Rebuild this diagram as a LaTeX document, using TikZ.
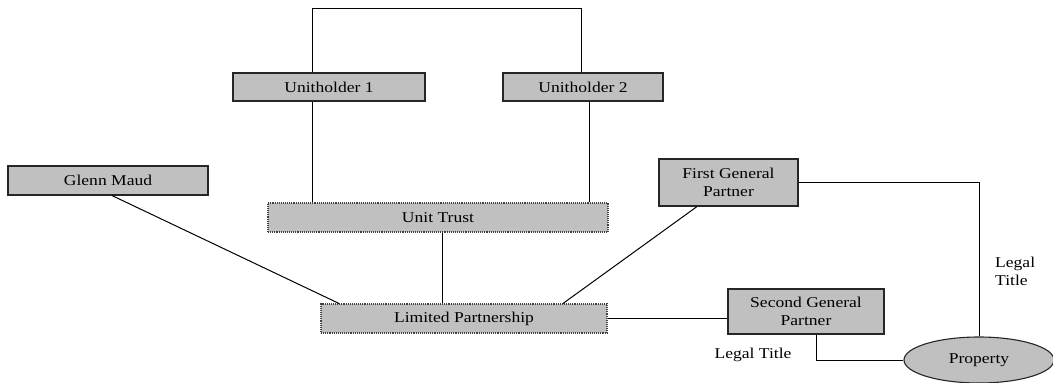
\documentclass[tikz,border=0pt]{standalone}
\usepackage{fontspec}
\setmainfont{Liberation Serif}[FakeStretch=1.17]
\usetikzlibrary{shapes.geometric}
\definecolor{boxgray}{HTML}{C0C0C0}
\begin{document}
\begin{tikzpicture}[x=1pt,y=-1pt,
  every node/.style={font=\fontsize{15}{18}\selectfont},
  solidbox/.style={draw=black!85,line width=1.1pt,fill=boxgray,inner sep=0pt,align=center},
  dotbox/.style={draw=black!75,densely dotted,line width=1.1pt,fill=boxgray,inner sep=0pt,align=center},
  conn/.style={draw=black,line width=1pt},
  lbl/.style={inner sep=0pt,align=left}]
\useasboundingbox (0,0) rectangle (1053,383);
\node[solidbox,minimum width=192pt,minimum height=28pt] (U1) at (329,87) {Unitholder 1};
\node[solidbox,minimum width=160pt,minimum height=28pt] (U2) at (583,87) {Unitholder 2};
\node[solidbox,minimum width=200pt,minimum height=29pt] (GM) at (108,180.5) {Glenn Maud};
\node[dotbox,minimum width=340pt,minimum height=29pt] (UT) at (438,217.5) {Unit Trust};
\node[dotbox,minimum width=286pt,minimum height=29pt] (LP) at (464,318.5) {Limited Partnership};
\node[solidbox,minimum width=139pt,minimum height=47pt] (FGP) at (728.5,182.5) {First General\\Partner};
\node[solidbox,minimum width=156pt,minimum height=45pt] (SGP) at (806,311.5) {Second General\\Partner};
\node[ellipse,draw=black!85,line width=1.1pt,fill=boxgray,inner sep=0pt,minimum width=150pt,minimum height=46pt] (PR) at (979,360) {Property};
\node[lbl,anchor=west] (LT1) at (995,271) {Legal\\Title};
\node[lbl] (LT2) at (753,355) {Legal Title};
\draw[conn] (U1.north -| 312,0) -- (312,8) -| (U2.north -| 581,0);
\draw[conn] (U1.south -| 312,0) -- (UT.north -| 312,0);
\draw[conn] (U2.south -| 589,0) -- (UT.north -| 589,0);
\draw[conn] (UT.south -| 442,0) -- (LP.north -| 442,0);
\draw[conn] (GM.south -| 112,0) -- (LP.north -| 339,0);
\draw[conn] (FGP.south -| 697,0) -- (LP.north -| 563,0);
\draw[conn] (LP.east) -- (LP.east -| SGP.west);
\draw[conn] (FGP.east) -| (PR.north);
\draw[conn] (SGP.south -| 816,0) |- (PR.west);
\end{tikzpicture}
\end{document}
